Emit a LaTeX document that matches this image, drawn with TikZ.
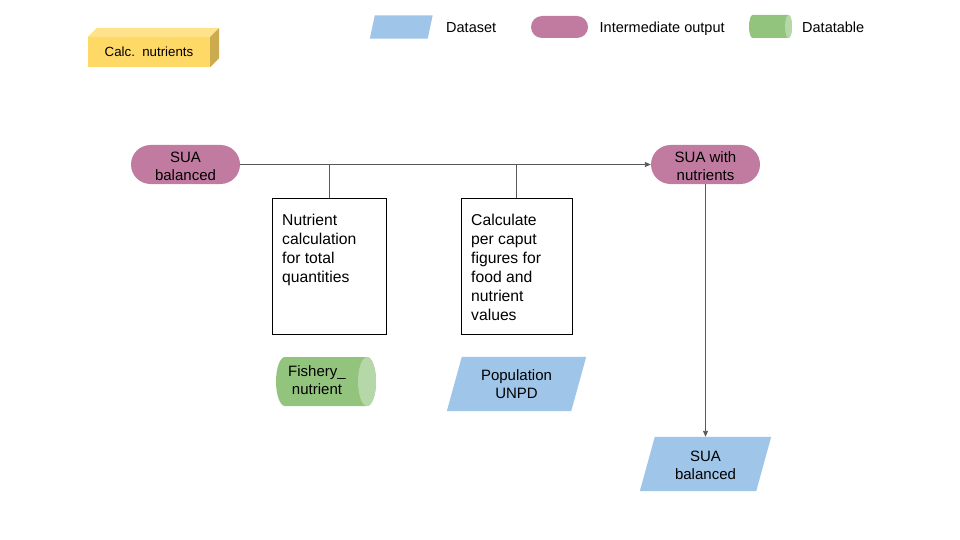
\documentclass[tikz,border=0pt]{standalone}
\usepackage{fontspec}
\setmainfont{Liberation Sans}
\usetikzlibrary{arrows.meta,backgrounds}

\definecolor{pillc}{HTML}{C27BA0}
\definecolor{tablec}{HTML}{93C47D}
\definecolor{tableend}{HTML}{B6D7A8}
\definecolor{datac}{HTML}{9FC5E8}
\definecolor{cubefront}{HTML}{FFD966}
\definecolor{cubetop}{HTML}{FFE38A}
\definecolor{cubeside}{HTML}{CCAB4E}
\definecolor{linec}{HTML}{595959}

% extra room above the first line of a label
\newcommand\topgap{\rule{0pt}{14pt}}

\tikzset{
  % horizontal drum (data table): width, height, end radius
  pics/drum/.style n args={3}{code={
    \fill[tablec] (#1/2-#3,-#2/2) -- (-#1/2+#3,-#2/2)
      arc[start angle=-90,end angle=-270,x radius=#3,y radius=#2/2]
      -- (#1/2-#3,#2/2)
      arc[start angle=90,end angle=-90,x radius=#3,y radius=#2/2] -- cycle;
    \fill[tableend] (#1/2-#3,0) ellipse[x radius=#3,y radius=#2/2];
  }}
}

\begin{document}
\begin{tikzpicture}[x=1pt,y=-1pt,
  txt/.style={font=\fontsize{15}{18}\selectfont, inner sep=0pt, align=center},
  pill/.style={txt, fill=pillc, rounded corners=19.5pt, minimum width=109pt, minimum height=39pt},
  stepbox/.style={draw=black, line width=1pt, minimum width=#1, minimum height=136pt, inner sep=0pt},
  boxtext/.style={font=\fontsize{15.7}{19}\selectfont, inner sep=0pt, align=left, anchor=north west},
  dataset/.style={txt, minimum height=54pt},
  flow/.style={draw=linec, line width=0.9pt},
  arr/.style={flow, -{Triangle[length=6pt,width=5pt]}},
  legendtxt/.style={font=\fontsize{14.5}{17}\selectfont, anchor=base west, inner sep=0pt}
]
\useasboundingbox (0,0) rectangle (960,540);

% process block (cuboid)
\node[fill=cubefront, minimum width=122pt, minimum height=30pt, inner sep=0pt,
      font=\fontsize{13.3}{15}\selectfont] (calc) at (149,52) {Calc.\ \ nutrients};
\fill[cubetop] (calc.north west) -- ([shift={(9pt,9pt)}]calc.north west)
  -- ([shift={(9pt,9pt)}]calc.north east) -- (calc.north east) -- cycle;
\fill[cubeside] (calc.north east) -- ([shift={(9pt,9pt)}]calc.north east)
  -- ([shift={(9pt,9pt)}]calc.south east) -- (calc.south east) -- cycle;

% legend
\node[minimum width=57.5pt, minimum height=23pt, inner sep=0pt] (legds) at (401.25,27) {};
\begin{scope}[on background layer]
  \fill[datac] ([xshift=2.5pt]legds.north west) -- ([xshift=2.5pt]legds.north east)
    -- ([xshift=-2.5pt]legds.south east) -- ([xshift=-2.5pt]legds.south west) -- cycle;
\end{scope}
\node[legendtxt] (legdst) at (446,32.3) {Dataset};
\node[fill=pillc, rounded corners=11pt, minimum width=57pt, minimum height=22pt, inner sep=0pt] (legpill) at (559.5,27) {};
\node[legendtxt] (legpillt) at (599.5,32.3) {Intermediate output};
\pic at (770.5,26.5) {drum={43}{23}{3.5}};
\node[legendtxt] (legdrumt) at (802,32.3) {Datatable};

% main flow
\node[pill] (suab) at (185.5,164.5) {\topgap SUA\\balanced};
\node[pill] (suan) at (705.5,164.5) {\topgap SUA with\\nutrients};

\node[stepbox=114pt] (calcq) at (329,266) {};
\node[boxtext] (calcqt) at (282,214) {Nutrient\\calculation\\for total\\quantities};
\node[stepbox=111pt] (percap) at (516.5,266) {};
\node[boxtext] (percapt) at (471,214) {Calculate\\per caput\\figures for\\food and\\nutrient\\values};

\pic at (326,381.5) {drum={100}{49}{9}};
\node[txt] (fish) at (317,380) {Fishery\_\\nutrient};

\node[dataset, minimum width=124pt] (pop) at (516.5,384) {Population\\UNPD};
\node[dataset, minimum width=116pt] (suab2) at (705.5,464) {\topgap SUA\\balanced};
\begin{scope}[on background layer]
  \foreach \n in {pop,suab2}
    \fill[datac] ([xshift=7.5pt]\n.north west) -- ([xshift=7.5pt]\n.north east)
      -- ([xshift=-7.5pt]\n.south east) -- ([xshift=-7.5pt]\n.south west) -- cycle;
\end{scope}

% connectors
\draw[arr] (suab.east) -- (suan.west);
\draw[flow] (calcq.north) -- (calcq.north |- suab.east);
\draw[flow] (percap.north) -- (percap.north |- suab.east);
\draw[arr] (suan.south) -- (suab2.north);
\end{tikzpicture}
\end{document}
